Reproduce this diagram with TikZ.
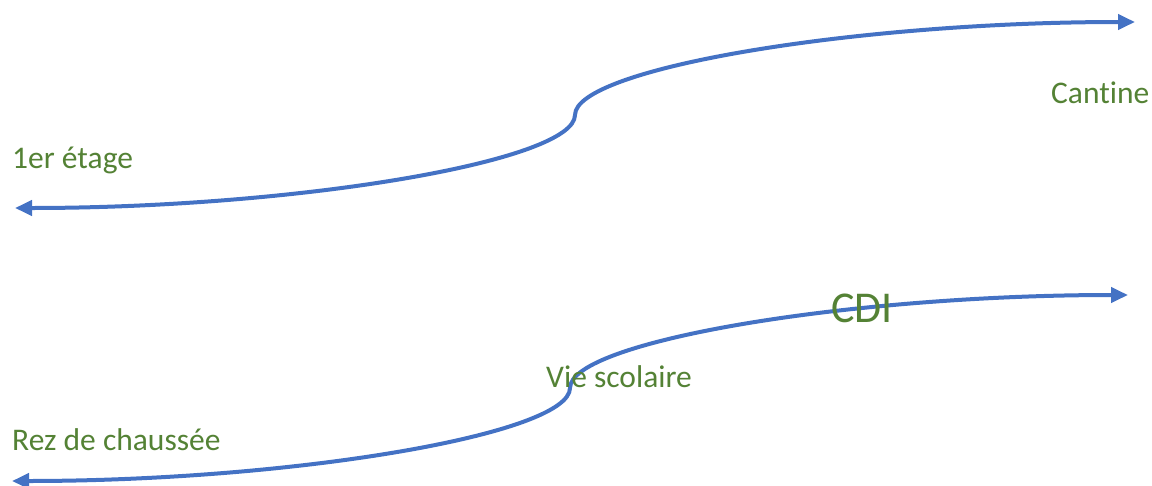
\documentclass[tikz,border=0pt]{standalone}
\usepackage{fontspec}
\setmainfont{Carlito}[Ligatures=NoCommon]
\usetikzlibrary{arrows.meta}
\definecolor{linkblue}{HTML}{4472C4}
\definecolor{labgreen}{HTML}{548235}
\begin{document}
\begin{tikzpicture}[x=1pt,y=-1pt,
  conn/.style={linkblue,line width=4pt,{Triangle[length=17pt,width=15pt]}-{Triangle[length=17pt,width=15pt]}},
  lab/.style={labgreen,anchor=base west,inner sep=0pt,font=\fontsize{31.5}{36}\selectfont},
  biglab/.style={labgreen,anchor=base west,inner sep=0pt,font=\fontsize{44}{50}\selectfont}]
\useasboundingbox (0,0) rectangle (1152,485);
% top connector
\coordinate (a1) at (15,208);
\coordinate (am) at (575,115);
\coordinate (a2) at (1135,22);
\draw[conn] (a1) .. controls (295,208) and (575,161.5) .. (am)
  .. controls (575,68.5) and (855,22) .. (a2);
% bottom connector
\coordinate (b1) at (12,481);
\coordinate (bm) at (570,388);
\coordinate (b2) at (1128,295);
\draw[conn] (b1) .. controls (291,481) and (570,434.5) .. (bm)
  .. controls (570,341.5) and (849,295) .. (b2);
% labels
\node[lab] (etage) at (12,168) {1er étage};
\node[lab] (cantine) at (1051,103) {Cantine};
\node[lab] (vie) at (546,387) {Vie scolaire};
\node[biglab] (cdi) at (831,322) {CDI};
\node[lab] (rez) at (12,450) {Rez de chaussée};
\end{tikzpicture}
\end{document}
